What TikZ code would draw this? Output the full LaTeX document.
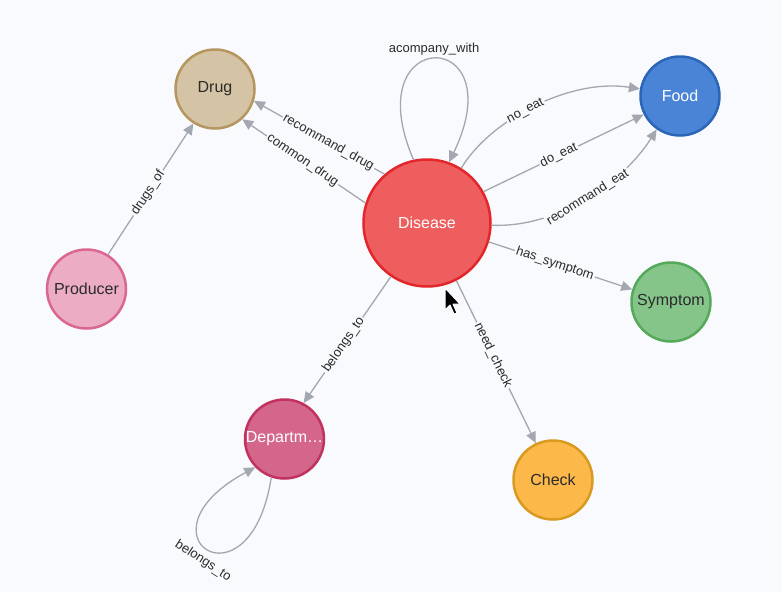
\documentclass[tikz,border=0pt]{standalone}
\usepackage{fontspec}
\setmainfont{Liberation Sans}
\usepackage{tikz}
\usetikzlibrary{arrows.meta}

\definecolor{bgcol}{HTML}{F8FAFD}
\definecolor{linkgray}{HTML}{A3A7B0}
\definecolor{inktext}{HTML}{2B2B2B}
\definecolor{disfill}{HTML}{EE5E5E}
\definecolor{disline}{HTML}{E3262B}
\definecolor{drugfill}{HTML}{D5C3A5}
\definecolor{drugline}{HTML}{B5965F}
\definecolor{prodfill}{HTML}{ECADC4}
\definecolor{prodline}{HTML}{D96791}
\definecolor{foodfill}{HTML}{4A84D6}
\definecolor{foodline}{HTML}{2B65B8}
\definecolor{symfill}{HTML}{85C58A}
\definecolor{symline}{HTML}{55A95A}
\definecolor{checkfill}{HTML}{FDB84A}
\definecolor{checkline}{HTML}{D99A20}
\definecolor{depfill}{HTML}{D4668B}
\definecolor{depline}{HTML}{C2325F}

\begin{document}
\begin{tikzpicture}[
  x=1pt, y=-1pt,
  entity/.style={circle, line width=2.5pt, minimum size=79pt, inner sep=0pt, text=inktext, font=\fontsize{16}{19}\selectfont},
  rel/.style={-{Triangle[length=11pt, width=10pt]}, draw=linkgray, line width=1.3pt},
  lbl/.style={sloped, fill=bgcol, inner sep=1.5pt, text=inktext, font=\fontsize{13}{15}\selectfont},
  looplbl/.style={inner sep=1pt, text=inktext, font=\fontsize{13}{15}\selectfont},
]
\fill[bgcol] (0,0) rectangle (782,592);
\useasboundingbox (0,0) rectangle (782,592);

% Entities
\node[entity, minimum size=127pt, fill=disfill, draw=disline, text=white] (disease) at (427,223) {Disease};
\node[entity, fill=drugfill, draw=drugline] (drug) at (215,89) {Drug};
\node[entity, fill=prodfill, draw=prodline] (producer) at (86.5,289) {Producer};
\node[entity, fill=foodfill, draw=foodline, text=white] (food) at (680,96) {Food};
\node[entity, fill=symfill, draw=symline] (symptom) at (671,302) {Symptom};
\node[entity, fill=checkfill, draw=checkline] (check) at (553,480) {Check};
\node[entity, fill=depfill, draw=depline, text=white] (dept) at (284.5,439) {Departm…};

% Relations
\draw[rel] (disease.131) -- node[lbl, pos=0.43] {recommand\_drug} (drug.-17);
\draw[rel] (disease.162) -- node[lbl, pos=0.51] {common\_drug} (drug.-48);
\draw[rel] (disease.102) .. controls (355,25) and (515,25) .. node[looplbl, pos=0.5, above=2pt] {acompany\_with} (disease.70);
\draw[rel] (disease.58) .. controls (490,120) and (570,78) .. node[lbl, pos=0.45] {no\_eat} (food.170);
\draw[rel] (disease.29) -- node[lbl, pos=0.47] {do\_eat} (food.-153);
\draw[rel] (disease.-2) .. controls (560,228) and (625,180) .. node[lbl, pos=0.5] {recommand\_eat} (food.-125);
\draw[rel] (disease.-17) -- node[lbl, pos=0.46] {has\_symptom} (symptom.162);
\draw[rel] (disease.-63) -- node[lbl, pos=0.46] {need\_check} (check.115);
\draw[rel] (disease.-124) -- node[lbl, pos=0.54] {belongs\_to} (dept.62);
\draw[rel] (dept.-109) .. controls (250,615) and (130,535) .. (dept.-136) node[looplbl, rotate=-33] at (203,561) {belongs\_to};
\draw[rel] (producer.58) -- node[lbl, pos=0.47] {drugs\_of} (drug.-122);

% Pointer
\draw[white, line width=1pt, line join=round, fill=black, shift={(445,288)}]
  (0,0) -- (0,22) -- (5,17) -- (9,26) -- (12,25) -- (8,16) -- (15,16) -- cycle;

\end{tikzpicture}
\end{document}
